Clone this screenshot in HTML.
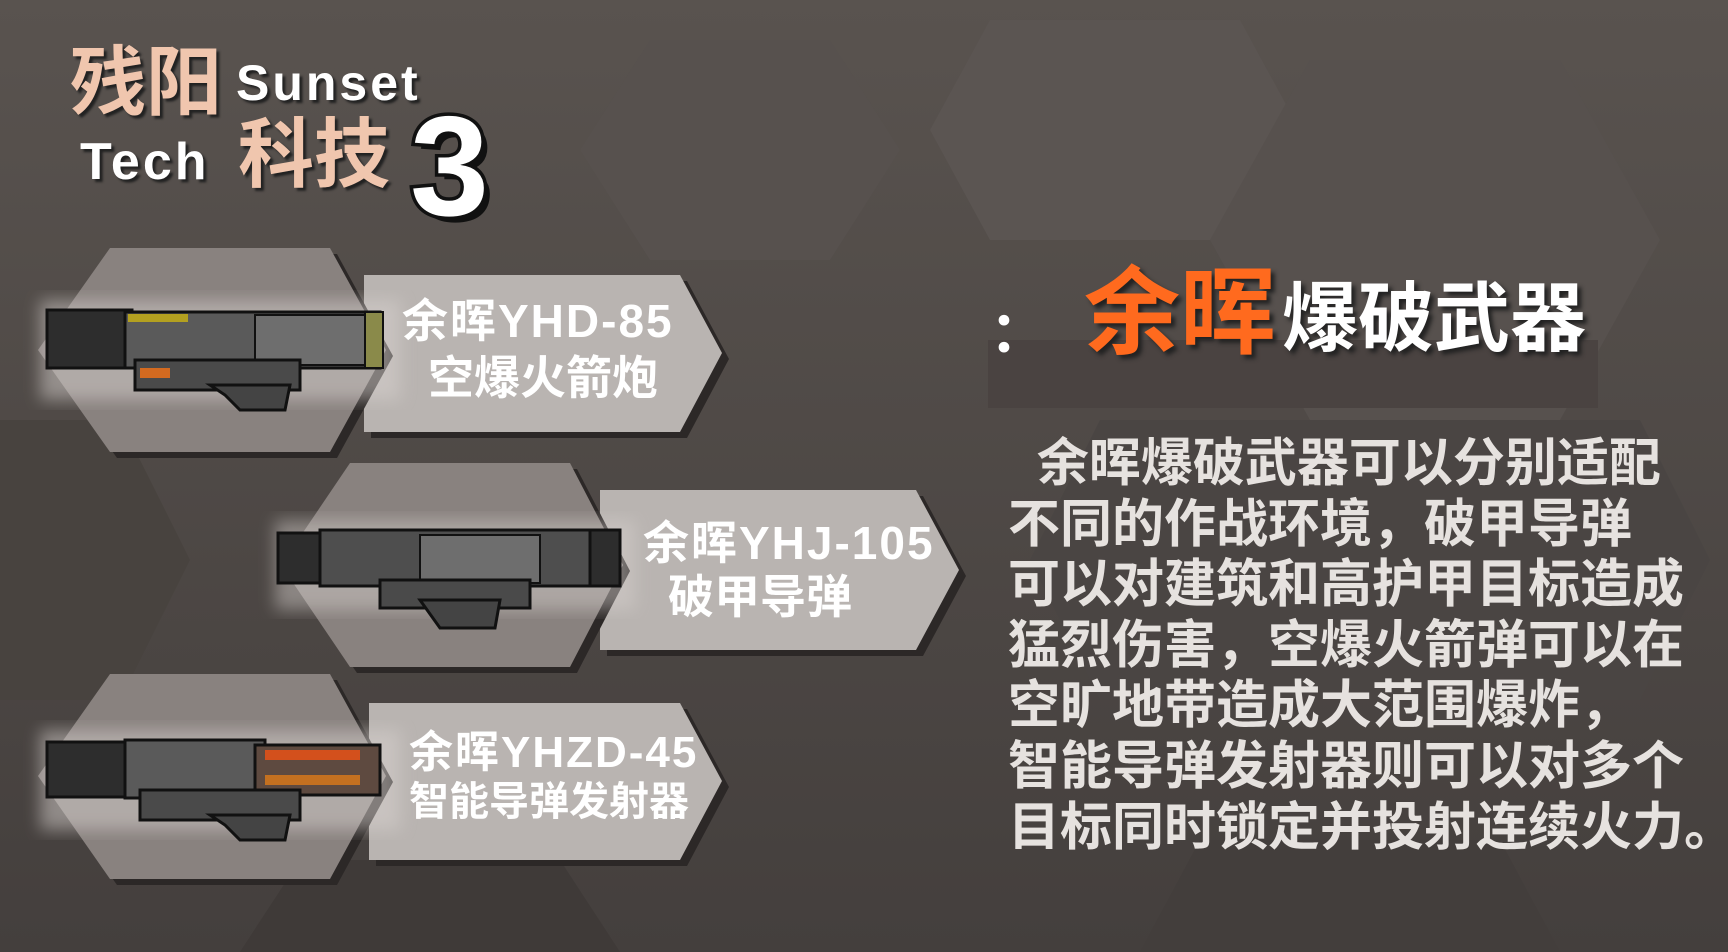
<!DOCTYPE html>
<html><head><meta charset="utf-8"><style>
html,body{margin:0;padding:0}
body{width:1728px;height:952px;overflow:hidden;position:relative;background:#4d4845;font-family:"Liberation Sans","Noto Sans CJK SC",sans-serif;}
.t{position:absolute;white-space:nowrap;font-weight:bold;line-height:1}
.l{letter-spacing:2px}
svg{position:absolute;left:0;top:0}
</style></head><body>
<svg width="1728" height="952">
<defs>
<linearGradient id="bg" x1="0" y1="0" x2="0" y2="1"><stop offset="0" stop-color="#59534f"/><stop offset="1" stop-color="#443f3d"/></linearGradient>
<filter id="gl"><feGaussianBlur stdDeviation="8"/></filter>
</defs>
<rect width="1728" height="952" fill="url(#bg)"/>
<polygon points="650,40 830,40 900,150 830,260 650,260 580,150" fill="#57514e"/>
<polygon points="990,20 1240,20 1300,130 1240,240 990,240 930,130" fill="#5b5552"/>
<polygon points="1310,60 1560,60 1660,240 1560,420 1310,420 1210,240" fill="#57514e"/>
<polygon points="1100,420 1640,420 1710,560 1640,700 1100,700 1030,560" fill="#4a4543"/>
<polygon points="-60,420 120,420 190,560 120,700 -60,700" fill="#48433f"/>
<polygon points="300,860 560,860 620,952 240,952" fill="#3f3a38"/>
<polygon points="1200,840 1500,840 1560,952 1140,952" fill="#433e3c"/>
<rect x="988" y="340" width="610" height="68" fill="#4a4341"/>
<!-- row1 -->
<polygon points="364,275 680,275 722,353 680,432 364,432" fill="#2c2827" transform="translate(7,6)"/>
<polygon points="364,275 680,275 722,353 680,432 364,432" fill="#b9b4b1"/>
<polygon points="110,248 330,248 386,350 330,452 110,452 38,350" fill="#2c2827" transform="translate(7,6)"/>
<polygon points="110,248 330,248 386,350 330,452 110,452 38,350" fill="#89827f"/>
<!-- row2 -->
<polygon points="600,490 916,490 959,570 916,650 600,650" fill="#2c2827" transform="translate(7,6)"/>
<polygon points="600,490 916,490 959,570 916,650 600,650" fill="#b9b4b1"/>
<polygon points="350,463 570,463 623,565 570,667 350,667 281,565" fill="#2c2827" transform="translate(7,6)"/>
<polygon points="350,463 570,463 623,565 570,667 350,667 281,565" fill="#89827f"/>
<!-- row3 -->
<polygon points="369,703 680,703 722,781 680,860 369,860" fill="#2c2827" transform="translate(7,6)"/>
<polygon points="369,703 680,703 722,781 680,860 369,860" fill="#b9b4b1"/>
<polygon points="110,674 330,674 386,776 330,879 110,879 38,776" fill="#2c2827" transform="translate(7,6)"/>
<polygon points="110,674 330,674 386,776 330,879 110,879 38,776" fill="#89827f"/>
<!-- gun1 -->
<g>
<rect x="40" y="300" width="360" height="100" fill="#d8d2cf" opacity="0.5" filter="url(#gl)"/>
<rect x="47" y="310" width="85" height="58" fill="#2d2d2d" stroke="#111" stroke-width="3"/>
<rect x="125" y="312" width="255" height="56" fill="#5a5a5a" stroke="#111" stroke-width="3"/>
<rect x="255" y="315" width="118" height="50" fill="#6e6e6e" stroke="#111" stroke-width="2"/>
<rect x="365" y="312" width="18" height="56" fill="#8a8a4a" stroke="#111" stroke-width="2"/>
<rect x="128" y="314" width="60" height="8" fill="#b3a020"/>
<rect x="135" y="360" width="165" height="30" fill="#4a4a4a" stroke="#111" stroke-width="3"/>
<rect x="140" y="368" width="30" height="10" fill="#d36a20"/>
<polygon points="210,385 290,385 285,410 240,410 225,395" fill="#444" stroke="#111" stroke-width="3"/>
</g>
<!-- gun2 -->
<g>
<rect x="275" y="520" width="360" height="90" fill="#d8d2cf" opacity="0.45" filter="url(#gl)"/>
<rect x="278" y="533" width="45" height="50" fill="#2d2d2d" stroke="#111" stroke-width="3"/>
<rect x="320" y="530" width="300" height="56" fill="#4e4e4e" stroke="#111" stroke-width="3"/>
<rect x="420" y="535" width="120" height="48" fill="#6e6e6e" stroke="#111" stroke-width="2"/>
<rect x="590" y="530" width="30" height="56" fill="#2d2d2d" stroke="#111" stroke-width="3"/>
<rect x="380" y="580" width="150" height="28" fill="#4a4a4a" stroke="#111" stroke-width="3"/>
<polygon points="420,600 500,600 495,628 440,628" fill="#444" stroke="#111" stroke-width="3"/>
</g>
<!-- gun3 -->
<g>
<rect x="40" y="730" width="360" height="100" fill="#d8d2cf" opacity="0.5" filter="url(#gl)"/>
<rect x="47" y="742" width="85" height="55" fill="#2d2d2d" stroke="#111" stroke-width="3"/>
<rect x="125" y="740" width="140" height="58" fill="#5a5a5a" stroke="#111" stroke-width="3"/>
<rect x="255" y="745" width="125" height="50" fill="#5e4a40" stroke="#111" stroke-width="3"/>
<rect x="265" y="750" width="95" height="10" fill="#d3501c"/>
<rect x="265" y="775" width="95" height="10" fill="#c47020"/>
<rect x="140" y="790" width="160" height="30" fill="#4a4a4a" stroke="#111" stroke-width="3"/>
<polygon points="210,815 290,815 285,840 240,840 225,825" fill="#444" stroke="#111" stroke-width="3"/>
</g>
</svg>

<!-- logo -->
<div class="t" style="left:70px;top:46px;font-size:76px;color:#f0c6ae;text-shadow:3px 3px 2px #222">残阳</div>
<div class="t" style="left:236px;top:58px;font-size:50px;color:#fff;letter-spacing:3px;text-shadow:3px 3px 2px #222">Sunset</div>
<div class="t" style="left:80px;top:136px;font-size:52px;color:#fff;letter-spacing:3px;text-shadow:3px 3px 2px #222">Tech</div>
<div class="t" style="left:238px;top:118px;font-size:76px;color:#f0c6ae;text-shadow:3px 3px 2px #222">科技</div>
<div class="t" style="left:410px;top:96px;font-size:142px;color:#fff;-webkit-text-stroke:7px #111;paint-order:stroke fill;text-shadow:6px 6px 0 #111">3</div>

<!-- labels -->
<div class="t l" style="left:402px;top:298px;font-size:46px;color:#fff;">余晖YHD-85</div>
<div class="t" style="left:428px;top:355px;font-size:46px;color:#fff;">空爆火箭炮</div>
<div class="t l" style="left:643px;top:520px;font-size:46px;color:#fff;">余晖YHJ-105</div>
<div class="t" style="left:668px;top:574px;font-size:46px;color:#fff;">破甲导弹</div>
<div class="t l" style="left:409px;top:731px;font-size:44px;color:#fff;">余晖YHZD-45</div>
<div class="t" style="left:409px;top:782px;font-size:40px;color:#fff;">智能导弹发射器</div>

<!-- title -->
<div class="t" style="left:990px;top:305px;font-size:56px;color:#fff;">：</div>
<div class="t" style="left:1084px;top:266px;font-size:96px;color:#ff6a1e;text-shadow:4px 4px 4px #222">余晖</div>
<div class="t" style="left:1282px;top:282px;font-size:76px;color:#fff;text-shadow:4px 4px 4px #222">爆破武器</div>

<!-- body -->
<div class="t" style="left:1008px;top:434px;font-size:52px;line-height:60.6px;color:#e6e2df;white-space:pre;">  余晖爆破武器可以分别适配
不同的作战环境，破甲导弹
可以对建筑和高护甲目标造成
猛烈伤害，空爆火箭弹可以在
空旷地带造成大范围爆炸，
智能导弹发射器则可以对多个
目标同时锁定并投射连续火力。</div>
</body></html>
